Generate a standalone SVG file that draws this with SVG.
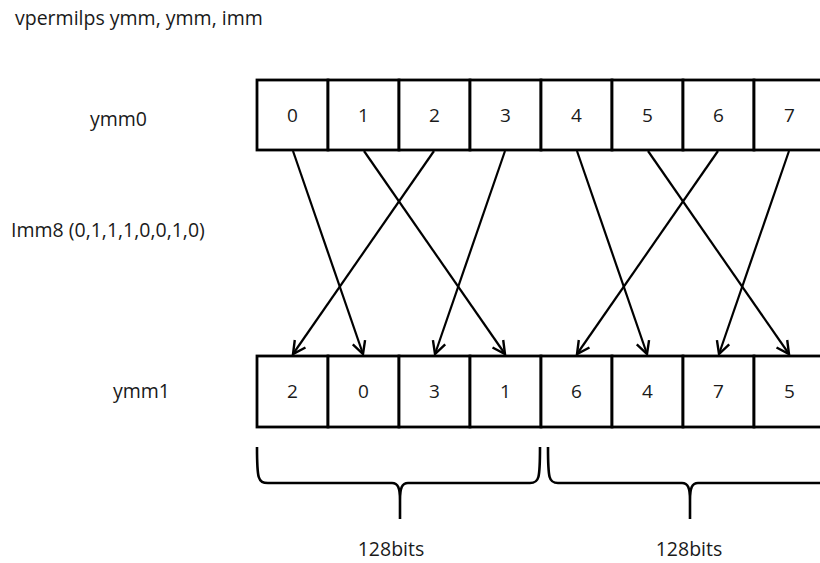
<svg xmlns="http://www.w3.org/2000/svg" width="820" height="563" viewBox="0 0 820 563">
<style>
.t{font-family:"Open Sans","Liberation Sans",sans-serif;font-size:19.5px;fill:#1a1a1a}
.n{font-family:"Open Sans","Liberation Sans",sans-serif;font-size:19px;fill:#1a1a1a;text-anchor:middle}
.cell{fill:#fff;stroke:#000;stroke-width:2.8}
.arr{stroke:#000;stroke-width:2.2;fill:none;marker-end:url(#ah)}
.br{stroke:#000;stroke-width:2.6;fill:none}
</style>
<defs>
<marker id="ah" viewBox="0 0 16 16" refX="14" refY="8" markerWidth="16" markerHeight="16" markerUnits="userSpaceOnUse" orient="auto">
<path d="M1.5,1.5 L14,8 L1.5,14.5" fill="none" stroke="#000" stroke-width="2.4"/>
</marker>
</defs>
<rect width="820" height="563" fill="#fff"/>
<text class="t" x="15" y="25">vpermilps ymm, ymm, imm</text>
<text class="t" x="90" y="126">ymm0</text>
<text class="t" x="11" y="237">Imm8 (0,1,1,1,0,0,1,0)</text>
<text class="t" x="113" y="398">ymm1</text>
<g id="ymm0">
<rect class="cell" x="257" y="80" width="71" height="70"/>
<rect class="cell" x="328" y="80" width="71" height="70"/>
<rect class="cell" x="399" y="80" width="71" height="70"/>
<rect class="cell" x="470" y="80" width="71" height="70"/>
<rect class="cell" x="541" y="80" width="71" height="70"/>
<rect class="cell" x="612" y="80" width="71" height="70"/>
<rect class="cell" x="683" y="80" width="71" height="70"/>
<rect class="cell" x="754" y="80" width="71" height="70"/>
<text class="n" x="292.5" y="122">0</text>
<text class="n" x="363.5" y="122">1</text>
<text class="n" x="434.5" y="122">2</text>
<text class="n" x="505.5" y="122">3</text>
<text class="n" x="576.5" y="122">4</text>
<text class="n" x="647.5" y="122">5</text>
<text class="n" x="718.5" y="122">6</text>
<text class="n" x="789.5" y="122">7</text>
</g>
<g id="ymm1">
<rect class="cell" x="257" y="356" width="71" height="71"/>
<rect class="cell" x="328" y="356" width="71" height="71"/>
<rect class="cell" x="399" y="356" width="71" height="71"/>
<rect class="cell" x="470" y="356" width="71" height="71"/>
<rect class="cell" x="541" y="356" width="71" height="71"/>
<rect class="cell" x="612" y="356" width="71" height="71"/>
<rect class="cell" x="683" y="356" width="71" height="71"/>
<rect class="cell" x="754" y="356" width="71" height="71"/>
<text class="n" x="292.5" y="398">2</text>
<text class="n" x="363.5" y="398">0</text>
<text class="n" x="434.5" y="398">3</text>
<text class="n" x="505.5" y="398">1</text>
<text class="n" x="576.5" y="398">6</text>
<text class="n" x="647.5" y="398">4</text>
<text class="n" x="718.5" y="398">7</text>
<text class="n" x="789.5" y="398">5</text>
</g>
<g id="connectors">
<line class="arr" x1="293" y1="151" x2="363" y2="354"/>
<line class="arr" x1="364" y1="151" x2="505" y2="354"/>
<line class="arr" x1="434" y1="151" x2="293" y2="354"/>
<line class="arr" x1="505" y1="151" x2="435" y2="354"/>
<line class="arr" x1="577" y1="151" x2="647" y2="354"/>
<line class="arr" x1="648" y1="151" x2="789" y2="354"/>
<line class="arr" x1="718" y1="151" x2="577" y2="354"/>
<line class="arr" x1="789" y1="151" x2="719" y2="354"/>
</g>
<g id="brace1">
<path class="br" d="M257,447 C257,479 258,483 268,483 L392,483 C398,483 400,488 400,500 L400,519 M400,500 C400,488 402,483 408,483 L530,483 C539,483 540,479 540,447"/>
<text class="t" x="391" y="556" text-anchor="middle">128bits</text>
</g>
<g id="brace2">
<path class="br" d="M548,447 C548,479 549,483 558,483 L682,483 C688,483 690,488 690,500 L690,519 M690,500 C690,488 692,483 698,483 L830,483"/>
<text class="t" x="689" y="556" text-anchor="middle">128bits</text>
</g>
</svg>
